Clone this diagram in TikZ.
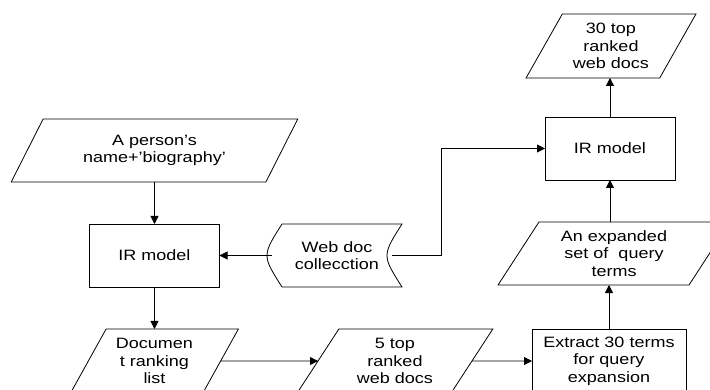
\documentclass[tikz,border=0pt]{standalone}
\usepackage{fontspec}
\setmainfont{Liberation Sans}[FakeStretch=1.2]
\usetikzlibrary{shapes.geometric,arrows.meta}

\tikzset{
  base/.style={draw=black, line width=0.8pt, outer sep=0pt, inner sep=2pt,
    align=center, font=\fontsize{15}{17.5}\selectfont},
  procbox/.style={base, rectangle, minimum width=130pt, minimum height=63pt},
  iobox/.style={base, trapezium, trapezium stretches=true,
    trapezium left angle=59, trapezium right angle=121},
  storebox/.style={base, draw=none, rectangle, minimum width=130pt, minimum height=63pt},
  arr/.style={draw=black, line width=0.8pt, -{Triangle[length=8pt,width=8pt]}},
  wire/.style={draw=black, line width=0.8pt}
}

\begin{document}
\begin{tikzpicture}[x=1pt,y=-1pt]
  \fill[white] (0,0) rectangle (710,390);
  \useasboundingbox (0,0) rectangle (710,390);

  % left column
  \node[iobox, minimum width=287pt, minimum height=63pt] (person) at (154.5,150.5)
    {A person’s\\name+’biography’};
  \node[procbox] (ir1) at (154.5,255.5) {IR model};
  \node[iobox, minimum width=168pt, minimum height=64pt] (doclist) at (154.5,361)
    {Documen\\t ranking\\list};

  % collection store
  \node[storebox] (wdc) at (337,255.5) {Web doc\\collecction};
  \draw[wire] ([xshift=10pt]wdc.north west) -- (wdc.north east)
    .. controls ([xshift=-20pt]wdc.east) .. (wdc.south east)
    -- ([xshift=10pt]wdc.south west)
    .. controls ([xshift=-10pt]wdc.west) .. cycle;

  % bottom row
  \node[iobox, minimum width=196pt, minimum height=64pt] (five) at (395,361)
    {5 top\\ranked\\web docs};
  \node[procbox, minimum width=154pt, minimum height=64pt] (ext) at (609,361)
    {Extract 30 terms\\for query\\expansion};

  % right column
  \node[iobox, minimum width=232pt, minimum height=63pt] (exp) at (614,253.5)
    {An expanded\\set of~ query\\terms};
  \node[procbox] (ir2) at (610,148.5) {IR model};
  \node[iobox, minimum width=170pt, minimum height=64pt] (top30) at (611,46)
    {30 top\\ranked\\web docs};

  % connectors
  \draw[arr] (person.south -| ir1.north) -- (ir1.north);
  \draw[arr] (ir1.south) -- (doclist.north -| ir1.south);
  \draw[arr] (wdc.west) -- (ir1.east);
  \draw[arr] ([xshift=-10pt]wdc.east) -- ++(49,0) |- (ir2.west);
  \draw[arr] (doclist.east) -- (five.west);
  \draw[arr] (five.east) -- (ext.west);
  \draw[arr] (ext.north) -- (ext.north |- exp.south);
  \draw[arr] (ir2.south |- exp.north) -- (ir2.south);
  \draw[arr] (ir2.north) -- (ir2.north |- top30.south);
\end{tikzpicture}
\end{document}
